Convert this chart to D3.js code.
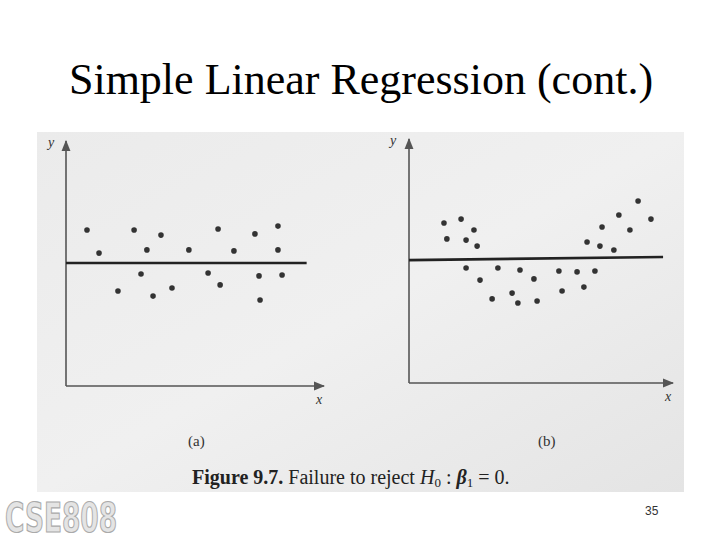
<!DOCTYPE html>
<html><head><meta charset="utf-8">
<script src="https://cdn.jsdelivr.net/npm/d3@7"></script>
<style>body{margin:0;background:#fff}svg{display:block}</style>
</head><body>
<svg id="c" width="720" height="540"></svg>
<script>
const title = "Simple Linear Regression (cont.)";
const panelLabels = ["(a)", "(b)"];
const ax = [8.2,12.9,20.3,26.6,31.6,29.3,37.1,34.0,41.4,48.0,55.5,59.4,60.2,65.6,73.8,75.4,75.8,82.8,82.8,84.4];
const ay = [64.2,54.7,39.1,64.2,56.0,46.1,62.1,37.0,40.3,56.0,46.5,64.6,41.6,55.6,62.6,45.3,35.4,65.8,56.0,45.7];
const aLine = [[0,50.6],[94,50.6]];
const bx = [13.3,14.4,19.8,21.7,24.7,25.9,21.7,27.0,31.6,33.8,39.2,41.4,42.2,47.5,48.7,57.0,58.2,63.9,66.5,67.7,70.7,72.6,73.4,77.9,79.8,84.0,87.1,92.0];
const by = [66.4,59.8,68.0,59.3,63.5,56.8,47.7,42.7,34.9,47.7,37.3,33.2,46.9,43.2,34.0,46.5,38.2,46.1,39.8,58.5,46.5,56.8,64.7,55.2,69.7,63.5,75.5,68.0];
const bLine = [[0,51.0],[96.6,52.3]];

const svg = d3.select("#c");
const defs = svg.append("defs");
const g = defs.append("linearGradient").attr("id","bg").attr("x1",0).attr("x2",1).attr("y1",0).attr("y2",1);
g.append("stop").attr("offset","0").attr("stop-color","#ebebeb");
g.append("stop").attr("offset","0.5").attr("stop-color","#f0f0f0");
g.append("stop").attr("offset","1").attr("stop-color","#e4e4e4");
const mk = defs.append("marker").attr("id","ar").attr("viewBox","0 0 10 10").attr("refX",9).attr("refY",5)
  .attr("markerWidth",7).attr("markerHeight",7).attr("orient","auto-start-reverse");
mk.append("path").attr("d","M0,1L10,5L0,9z").attr("fill","#555");

svg.append("text").attr("x",361).attr("y",94).attr("text-anchor","middle")
  .attr("font-family","Liberation Serif, Times New Roman, serif").attr("font-size",44).text(title);
svg.append("rect").attr("x",37).attr("y",132).attr("width",647).attr("height",360).attr("fill","url(#bg)");

function panel(xs, ys, line, x0, x1, y0, y1, xEnd, yTop, lab, labX, ylabX, xlabY) {
  const x = d3.scaleLinear().domain([0,100]).range([x0,x1]);
  const y = d3.scaleLinear().domain([0,100]).range([y0,y1]);
  svg.append("line").attr("x1",x(0)).attr("y1",y(0)).attr("x2",x(0)).attr("y2",yTop)
    .attr("stroke","#555").attr("stroke-width",1.6).attr("marker-end","url(#ar)");
  svg.append("line").attr("x1",x(0)).attr("y1",y(0)).attr("x2",xEnd).attr("y2",y(0))
    .attr("stroke","#555").attr("stroke-width",1.6).attr("marker-end","url(#ar)");
  svg.append("path").attr("d",d3.line().x(d=>x(d[0])).y(d=>y(d[1]))(line))
    .attr("stroke","#222").attr("stroke-width",2.6).attr("fill","none");
  svg.selectAll(null).data(xs.map((v,i)=>[v,ys[i]])).join("circle")
    .attr("cx",d=>x(d[0])).attr("cy",d=>y(d[1])).attr("r",2.8).attr("fill","#333");
  svg.append("text").attr("x",ylabX).attr("y",yTop+6).attr("font-family","Liberation Serif, serif")
    .attr("font-style","italic").attr("font-size",14).attr("fill","#333").text("y");
  svg.append("text").attr("x",xEnd-8).attr("y",xlabY).attr("font-family","Liberation Serif, serif")
    .attr("font-style","italic").attr("font-size",14).attr("fill","#333").text("x");
  svg.append("text").attr("x",labX).attr("y",446).attr("font-family","Liberation Serif, serif")
    .attr("font-size",15).attr("fill","#333").text(lab);
}
panel(ax, ay, aLine, 66, 322, 386, 143, 324, 141, panelLabels[0], 188, 48, 404);
panel(bx, by, bLine, 409, 672, 383, 142, 673, 139, panelLabels[1], 538, 390, 401);

const cap = svg.append("text").attr("x",192).attr("y",484).attr("font-family","Liberation Serif, serif")
  .attr("font-size",20).attr("fill","#222");
cap.append("tspan").attr("font-weight","bold").text("Figure 9.7.");
cap.append("tspan").text(" Failure to reject ");
cap.append("tspan").attr("font-style","italic").text("H");
cap.append("tspan").attr("font-size",13).attr("dy",3).text("0");
cap.append("tspan").attr("dy",-3).text(" : ");
cap.append("tspan").attr("font-weight","bold").attr("font-style","italic").text("β");
cap.append("tspan").attr("font-size",13).attr("dy",3).text("1");
cap.append("tspan").attr("dy",-3).text(" = 0.");

svg.append("text").attr("x",5).attr("y",532).attr("font-family","DejaVu Sans Condensed, DejaVu Sans, sans-serif")
  .attr("font-weight","bold").attr("font-size",40).attr("textLength",112).attr("lengthAdjust","spacingAndGlyphs")
  .attr("fill","#e4e4e4").attr("stroke","#aaa").attr("stroke-width",1.2).text("CSE808");
svg.append("text").attr("x",645).attr("y",515).attr("font-family","Liberation Sans Narrow, Liberation Sans, sans-serif")
  .attr("font-size",12).attr("fill","#333").text("35");
</script>
</body></html>
